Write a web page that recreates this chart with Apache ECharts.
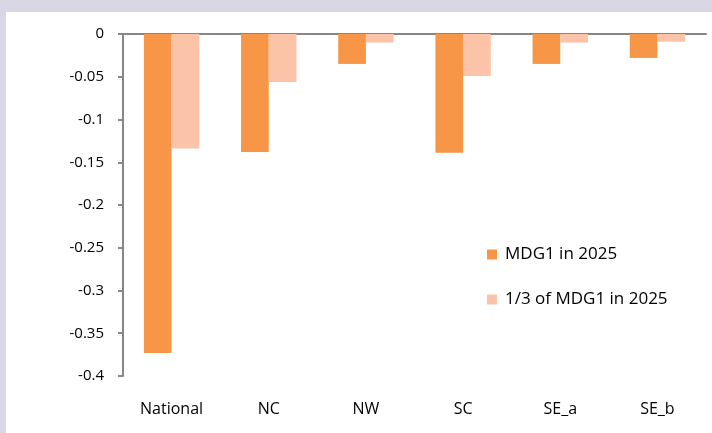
<!DOCTYPE html>
<html>
<head>
<meta charset="utf-8">
<script src="https://cdn.jsdelivr.net/npm/echarts@6/dist/echarts.min.js"></script>
<style>
  html, body { margin: 0; padding: 0; background: #d9d7e6; }
  #main { position: absolute; left: 6px; top: 12px; width: 706px; height: 421px; background: #fff; }
</style>
</head>
<body>
<div id="main"></div>
<script>
// regions and values
const regions = ['National', 'NC', 'NW', 'SC', 'SE_a', 'SE_b']
const mdg1 = [-0.373, -0.138, -0.035, -0.139, -0.035, -0.028]
const mdg1Third = [-0.134, -0.056, -0.010, -0.049, -0.010, -0.009]
const yTicks = [0, -0.05, -0.1, -0.15, -0.2, -0.25, -0.3, -0.35, -0.4]

const font = '"Open Sans", Lato, sans-serif'
const axisGrey = '#868686'

const chart = echarts.init(document.getElementById('main'))
chart.setOption({
  animation: false,
  textStyle: { fontFamily: font },
  grid: { left: 117, top: 22, right: 6, bottom: 57 },
  legend: {
    orient: 'vertical',
    left: 476,
    top: 229,
    itemWidth: 10,
    itemHeight: 10,
    itemGap: 28,
    icon: 'rect',
    textStyle: { fontFamily: font, fontSize: 17, color: '#000', padding: [0, 0, 0, 3] },
    data: ['MDG1 in 2025', '1/3 of MDG1 in 2025']
  },
  xAxis: [
    {
      type: 'category',
      data: regions,
      position: 'top',
      axisLine: { onZero: false, lineStyle: { color: axisGrey, width: 2 } },
      axisTick: { inside: true, length: 6, lineStyle: { color: axisGrey, width: 2 } },
      axisLabel: { show: false }
    },
    {
      type: 'category',
      data: regions,
      position: 'bottom',
      axisLine: { show: false, onZero: false },
      axisTick: { show: false },
      axisLabel: { margin: 25, fontSize: 16, color: '#000', fontFamily: font }
    }
  ],
  yAxis: {
    type: 'value',
    min: -0.4,
    max: 0,
    interval: 0.05,
    splitLine: { show: false },
    axisLine: { show: true, lineStyle: { color: axisGrey, width: 2 } },
    axisTick: { show: true, length: 5, lineStyle: { color: axisGrey, width: 2 } },
    axisLabel: {
      margin: 19,
      fontSize: 15,
      color: '#000',
      fontFamily: font,
      formatter: v => {
        const t = yTicks.find(x => Math.abs(x - v) < 1e-9)
        return t === undefined ? '' : String(t)
      }
    }
  },
  series: [
    {
      name: 'MDG1 in 2025',
      type: 'bar',
      xAxisIndex: 0,
      data: mdg1,
      barGap: '0%',
      barCategoryGap: '43%',
      itemStyle: { color: '#f79646' }
    },
    {
      name: '1/3 of MDG1 in 2025',
      type: 'bar',
      xAxisIndex: 0,
      data: mdg1Third,
      barGap: '0%',
      barCategoryGap: '43%',
      itemStyle: { color: '#fbc4a8' }
    }
  ]
})
</script>
</body>
</html>
